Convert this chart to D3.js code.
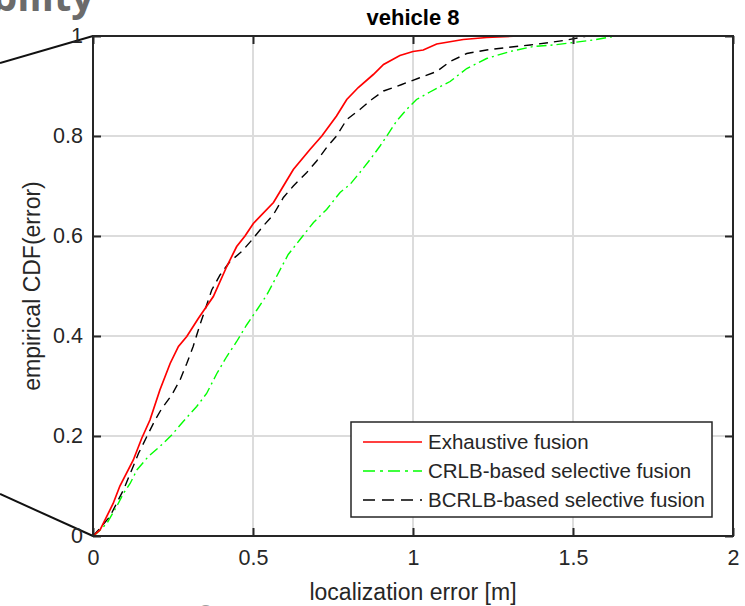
<!DOCTYPE html>
<html>
<head>
<meta charset="utf-8">
<script src="https://cdn.jsdelivr.net/npm/d3@7"></script>
<style>
  body { margin: 0; background: #fff; }
  svg { display: block; }
  text { font-family: "Liberation Sans", Arial, Helvetica, sans-serif; fill: #262626; }
</style>
</head>
<body>
<div id="chart"></div>
<script>
// exhaustive fusion (red)
const exhaustiveX = [0, 0.022, 0.063, 0.084, 0.126, 0.152, 0.178, 0.209, 0.241, 0.267, 0.293, 0.329, 0.376, 0.418, 0.449, 0.475, 0.501, 0.564, 0.595, 0.626, 0.678, 0.715, 0.761, 0.793, 0.829, 0.876, 0.908, 0.959, 1.0, 1.032, 1.074, 1.157, 1.23, 1.33];
const exhaustiveY = [0, 0.012, 0.065, 0.10, 0.152, 0.195, 0.232, 0.292, 0.345, 0.379, 0.399, 0.435, 0.479, 0.539, 0.579, 0.600, 0.625, 0.667, 0.70, 0.733, 0.773, 0.80, 0.84, 0.873, 0.897, 0.923, 0.943, 0.961, 0.969, 0.972, 0.984, 0.993, 0.997, 1.0];

// CRLB-based selective fusion (green)
const crlbX = [0, 0.011, 0.043, 0.074, 0.095, 0.116, 0.137, 0.173, 0.209, 0.246, 0.282, 0.324, 0.355, 0.387, 0.418, 0.449, 0.48, 0.512, 0.543, 0.61, 0.647, 0.689, 0.73, 0.772, 0.803, 0.834, 0.866, 0.897, 0.918, 0.949, 0.98, 1.011, 1.053, 1.116, 1.168, 1.23, 1.303, 1.376, 1.439, 1.501, 1.563, 1.626, 1.64];
const crlbY = [0, 0.005, 0.025, 0.059, 0.085, 0.105, 0.132, 0.159, 0.179, 0.202, 0.229, 0.259, 0.285, 0.325, 0.359, 0.389, 0.422, 0.452, 0.482, 0.563, 0.593, 0.627, 0.653, 0.687, 0.703, 0.727, 0.753, 0.78, 0.80, 0.83, 0.853, 0.873, 0.888, 0.909, 0.935, 0.955, 0.969, 0.979, 0.982, 0.987, 0.992, 0.999, 1.0];

// BCRLB-based selective fusion (black dashed)
const bcrlbX = [0, 0.017, 0.053, 0.079, 0.095, 0.121, 0.142, 0.173, 0.194, 0.215, 0.246, 0.272, 0.293, 0.313, 0.334, 0.35, 0.371, 0.397, 0.428, 0.465, 0.495, 0.532, 0.564, 0.595, 0.626, 0.668, 0.699, 0.73, 0.761, 0.793, 0.834, 0.871, 0.908, 0.965, 1.019, 1.074, 1.116, 1.168, 1.23, 1.293, 1.366, 1.428, 1.48, 1.522, 1.543];
const bcrlbY = [0, 0.012, 0.039, 0.072, 0.092, 0.132, 0.165, 0.205, 0.232, 0.255, 0.282, 0.312, 0.345, 0.379, 0.422, 0.452, 0.492, 0.522, 0.549, 0.569, 0.591, 0.62, 0.643, 0.677, 0.70, 0.727, 0.75, 0.777, 0.80, 0.833, 0.853, 0.873, 0.89, 0.903, 0.916, 0.929, 0.949, 0.965, 0.972, 0.977, 0.982, 0.987, 0.992, 0.997, 1.0];

const xTicks = [0, 0.5, 1, 1.5, 2];
const yTicks = [0, 0.2, 0.4, 0.6, 0.8, 1];
const seriesNames = ["Exhaustive fusion", "CRLB-based selective fusion", "BCRLB-based selective fusion"];

const margin = { top: 36, right: 12, bottom: 70, left: 93 },
    width = 745 - margin.left - margin.right,
    height = 606 - margin.top - margin.bottom;

const root = d3.select("#chart")
    .append("svg")
    .attr("width", 745)
    .attr("height", 606);

// cropped bits of the surrounding slide
root.append("text")
    .attr("x", 94)
    .attr("y", 11)
    .attr("text-anchor", "end")
    .style("font-family", "'Open Sans', sans-serif")
    .style("font-weight", "700")
    .style("font-size", "40px")
    .style("fill", "#6b6b6b")
    .text("Probability");

root.append("text")
    .attr("x", 410)
    .attr("y", 632)
    .attr("text-anchor", "middle")
    .style("font-family", "'Open Sans', sans-serif")
    .style("font-size", "34px")
    .style("fill", "#a0a0a0")
    .text("CDF for the Whole Fleet (all vehicles)");

root.append("line")
    .attr("x1", 0).attr("y1", 63)
    .attr("x2", margin.left).attr("y2", margin.top)
    .style("stroke", "#111").style("stroke-width", 2);
root.append("line")
    .attr("x1", 0).attr("y1", 494)
    .attr("x2", margin.left).attr("y2", margin.top + height)
    .style("stroke", "#111").style("stroke-width", 2);

const svg = root.append("g")
    .attr("transform", `translate(${margin.left},${margin.top})`);

const x = d3.scaleLinear().domain([0, 2]).range([0, width]);
const y = d3.scaleLinear().domain([0, 1]).range([height, 0]);

// grid
svg.append("g")
    .selectAll("line")
    .data(xTicks.slice(1, -1))
    .join("line")
    .attr("x1", d => x(d)).attr("x2", d => x(d))
    .attr("y1", 0).attr("y2", height)
    .style("stroke", "#dcdcdc").style("stroke-width", 2);
svg.append("g")
    .selectAll("line")
    .data(yTicks.slice(1, -1))
    .join("line")
    .attr("x1", 0).attr("x2", width)
    .attr("y1", d => y(d)).attr("y2", d => y(d))
    .style("stroke", "#dcdcdc").style("stroke-width", 2);

const line = d3.line()
    .x(d => x(d[0]))
    .y(d => y(d[1]));

const series = [
    { name: seriesNames[0], pts: d3.zip(exhaustiveX, exhaustiveY), color: "#ff0000", dash: null, legendDash: null, w: 1.7 },
    { name: seriesNames[1], pts: d3.zip(crlbX, crlbY), color: "#00ff00", dash: "10,4,2,4", legendDash: "12,5,3,5", w: 1.4 },
    { name: seriesNames[2], pts: d3.zip(bcrlbX, bcrlbY), color: "#000000", dash: "9,6", legendDash: "12,7", w: 1.4 }
];

// draw black, then green, then red on top
[series[2], series[1], series[0]].forEach(s => {
    svg.append("path")
        .datum(s.pts)
        .attr("d", line)
        .style("fill", "none")
        .style("stroke", s.color)
        .style("stroke-width", s.w)
        .style("stroke-dasharray", s.dash);
});

// axes, MATLAB style: ticks inside, box on
const tickLen = 8;
svg.append("g")
    .attr("transform", `translate(0,${height})`)
    .call(d3.axisBottom(x).tickValues(xTicks).tickFormat(d3.format("")).tickSizeInner(-tickLen).tickSizeOuter(0).tickPadding(14))
    .call(g => g.select(".domain").remove())
    .call(g => g.selectAll(".tick line").style("stroke", "#262626").style("stroke-width", 2))
    .call(g => g.selectAll(".tick text").style("font-size", "21.5px").style("fill", "#262626").attr("font-family", null));

svg.append("g")
    .call(d3.axisLeft(y).tickValues(yTicks).tickFormat(d3.format("")).tickSizeInner(-tickLen).tickSizeOuter(0).tickPadding(10))
    .call(g => g.select(".domain").remove())
    .call(g => g.selectAll(".tick line").style("stroke", "#262626").style("stroke-width", 2))
    .call(g => g.selectAll(".tick text").style("font-size", "21.5px").style("fill", "#262626").attr("font-family", null));

svg.append("g")
    .call(d3.axisTop(x).tickValues(xTicks).tickFormat("").tickSizeInner(-tickLen).tickSizeOuter(0))
    .call(g => g.select(".domain").remove())
    .call(g => g.selectAll(".tick line").style("stroke", "#262626").style("stroke-width", 2));

svg.append("g")
    .attr("transform", `translate(${width},0)`)
    .call(d3.axisRight(y).tickValues(yTicks).tickFormat("").tickSizeInner(-tickLen).tickSizeOuter(0))
    .call(g => g.select(".domain").remove())
    .call(g => g.selectAll(".tick line").style("stroke", "#262626").style("stroke-width", 2));

svg.append("rect")
    .attr("width", width)
    .attr("height", height)
    .style("fill", "none")
    .style("stroke", "#262626")
    .style("stroke-width", 2);

// labels
svg.append("text")
    .attr("x", width / 2)
    .attr("y", -11)
    .attr("text-anchor", "middle")
    .style("font-size", "22px")
    .style("font-weight", "bold")
    .style("fill", "#000")
    .text("vehicle 8");

svg.append("text")
    .attr("x", width / 2)
    .attr("y", height + 64)
    .attr("text-anchor", "middle")
    .style("font-size", "23px")
    .text("localization error [m]");

svg.append("text")
    .attr("transform", "rotate(-90)")
    .attr("x", -250)
    .attr("y", -53)
    .attr("text-anchor", "middle")
    .style("font-size", "23px")
    .text("empirical CDF(error)");

// legend
const legend = svg.append("g")
    .attr("transform", `translate(${351 - margin.left},${422 - margin.top})`);

legend.append("rect")
    .attr("width", 361)
    .attr("height", 95)
    .style("fill", "#fff")
    .style("stroke", "#262626")
    .style("stroke-width", 1.5);

series.forEach((s, i) => {
    const row = legend.append("g")
        .attr("transform", `translate(0, ${20 + i * 29})`);
    row.append("line")
        .attr("x1", 12).attr("x2", 71)
        .style("stroke", s.color)
        .style("stroke-width", s.w)
        .style("stroke-dasharray", s.legendDash);
    row.append("text")
        .attr("x", 77)
        .attr("dy", "0.35em")
        .style("font-size", "20.5px")
        .text(s.name);
});
</script>
</body>
</html>
